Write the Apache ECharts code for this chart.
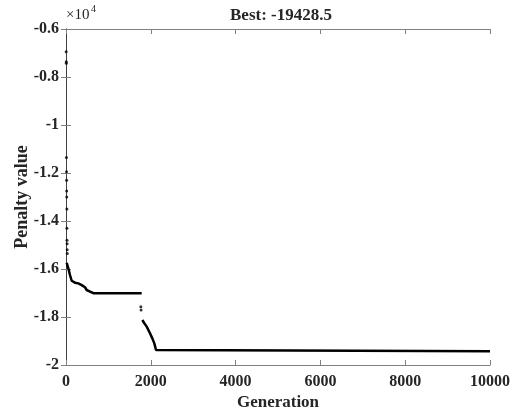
<!DOCTYPE html>
<html>
<head>
<meta charset="utf-8">
<script src="https://cdn.jsdelivr.net/npm/echarts@6/dist/echarts.min.js"></script>
<style>
html,body{margin:0;padding:0;background:#fff;}
#c{width:517px;height:416px;}
</style>
</head>
<body>
<div id="c"></div>
<script>
// Sparse scattered best values (generation, penalty)
const dotGen = [4, 6, 8, 10, 12, 14, 16, 18, 20, 22, 24, 26, 28, 30, 1765, 1770];
const dotVal = [-6950, -7360, -7430, -11350, -11950, -12300, -12750, -13000, -13500, -14300, -14800, -14950, -15200, -15350, -17570, -17710];
// First descent and plateau
const phase1Gen = [16, 55, 94, 134, 212, 291, 370, 448, 487, 566, 645, 1785];
const phase1Val = [-15740, -15970, -16250, -16490, -16570, -16600, -16670, -16760, -16875, -16940, -17010, -17010];
// Second descent and final plateau
const phase2Gen = [1800, 1847, 1903, 1981, 2036, 2083, 2123, 2162, 10000];
const phase2Val = [-18125, -18260, -18400, -18680, -18890, -19100, -19375, -19428.5, -19428.5];
// Axis ticks
const xTicks = [0, 2000, 4000, 6000, 8000, 10000];
const yTickLabels = ['-2', '-1.8', '-1.6', '-1.4', '-1.2', '-1', '-0.8', '-0.6'];
const bestValue = -19428.5;

const pair = (g, v) => g.map((x, i) => [x, v[i]]);
const FONT = '"Liberation Serif", "DejaVu Serif", serif';
const AX = '#808080';
const TXT = '#262626';

const chart = echarts.init(document.getElementById('c'), null, {renderer: 'canvas'});
const yMin = -20000, yMax = -6000, yInt = 2000;

const baseX = {
  type: 'value', min: xTicks[0], max: xTicks[xTicks.length - 1], interval: 2000,
  axisLine: {lineStyle: {color: AX, width: 1}},
  axisTick: {inside: true, length: 5, lineStyle: {color: AX}},
  splitLine: {show: false}
};
const baseY = {
  type: 'value', min: yMin, max: yMax, interval: yInt,
  axisLine: {show: true, lineStyle: {color: AX, width: 1}},
  axisTick: {show: true, inside: true, length: 5, lineStyle: {color: AX}},
  splitLine: {show: false}
};

chart.setOption({
  animation: false,
  backgroundColor: '#fff',
  title: {
    text: 'Best: ' + bestValue,
    left: 276, top: 2, textAlign: 'center',
    textStyle: {fontFamily: FONT, fontWeight: 'bold', fontSize: 17, color: TXT}
  },
  grid: {left: 66, right: 27, top: 29, bottom: 51, containLabel: false, outerBoundsMode: 'none'},
  xAxis: [
    Object.assign({}, baseX, {
      position: 'bottom',
      name: 'Generation', nameLocation: 'middle', nameGap: 29, nameMoveOverlap: false,
      nameTextStyle: {fontFamily: FONT, fontWeight: 'bold', fontSize: 17, color: TXT},
      axisLabel: {
        margin: 9, fontFamily: FONT, fontWeight: 'bold', fontSize: 16, color: TXT,
        formatter: v => String(xTicks[Math.round(v / 2000)])
      }
    }),
    Object.assign({}, baseX, {
      position: 'top',
      axisLabel: {show: false}
    })
  ],
  yAxis: [
    Object.assign({}, baseY, {
      position: 'left',
      name: 'Penalty value', nameLocation: 'middle', nameGap: 35, nameMoveOverlap: false,
      nameTextStyle: {fontFamily: FONT, fontWeight: 'bold', fontSize: 18, color: TXT},
      axisLabel: {
        margin: 7, fontFamily: FONT, fontWeight: 'bold', fontSize: 16, color: TXT,
        formatter: v => yTickLabels[Math.round((v - yMin) / yInt)]
      }
    }),
    Object.assign({}, baseY, {
      position: 'right',
      axisLine: {show: true, lineStyle: {color: '#404040', width: 1}},
      axisLabel: {show: false}
    })
  ],
  graphic: [
    {type: 'text', left: 66, top: 8, style: {text: '×10', font: '15px ' + FONT, fill: TXT}},
    {type: 'text', left: 91, top: 4, style: {text: '4', font: '10px ' + FONT, fill: TXT}}
  ],
  series: [
    {
      type: 'scatter', data: pair(dotGen, dotVal), symbol: 'circle', symbolSize: 3,
      itemStyle: {color: '#000'}, silent: true
    },
    {
      type: 'line', data: pair(phase1Gen, phase1Val), showSymbol: false,
      lineStyle: {color: '#000', width: 2.5}, silent: true
    },
    {
      type: 'line', data: pair(phase2Gen, phase2Val), showSymbol: false,
      lineStyle: {color: '#000', width: 2.5}, silent: true
    }
  ]
});
</script>
</body>
</html>
